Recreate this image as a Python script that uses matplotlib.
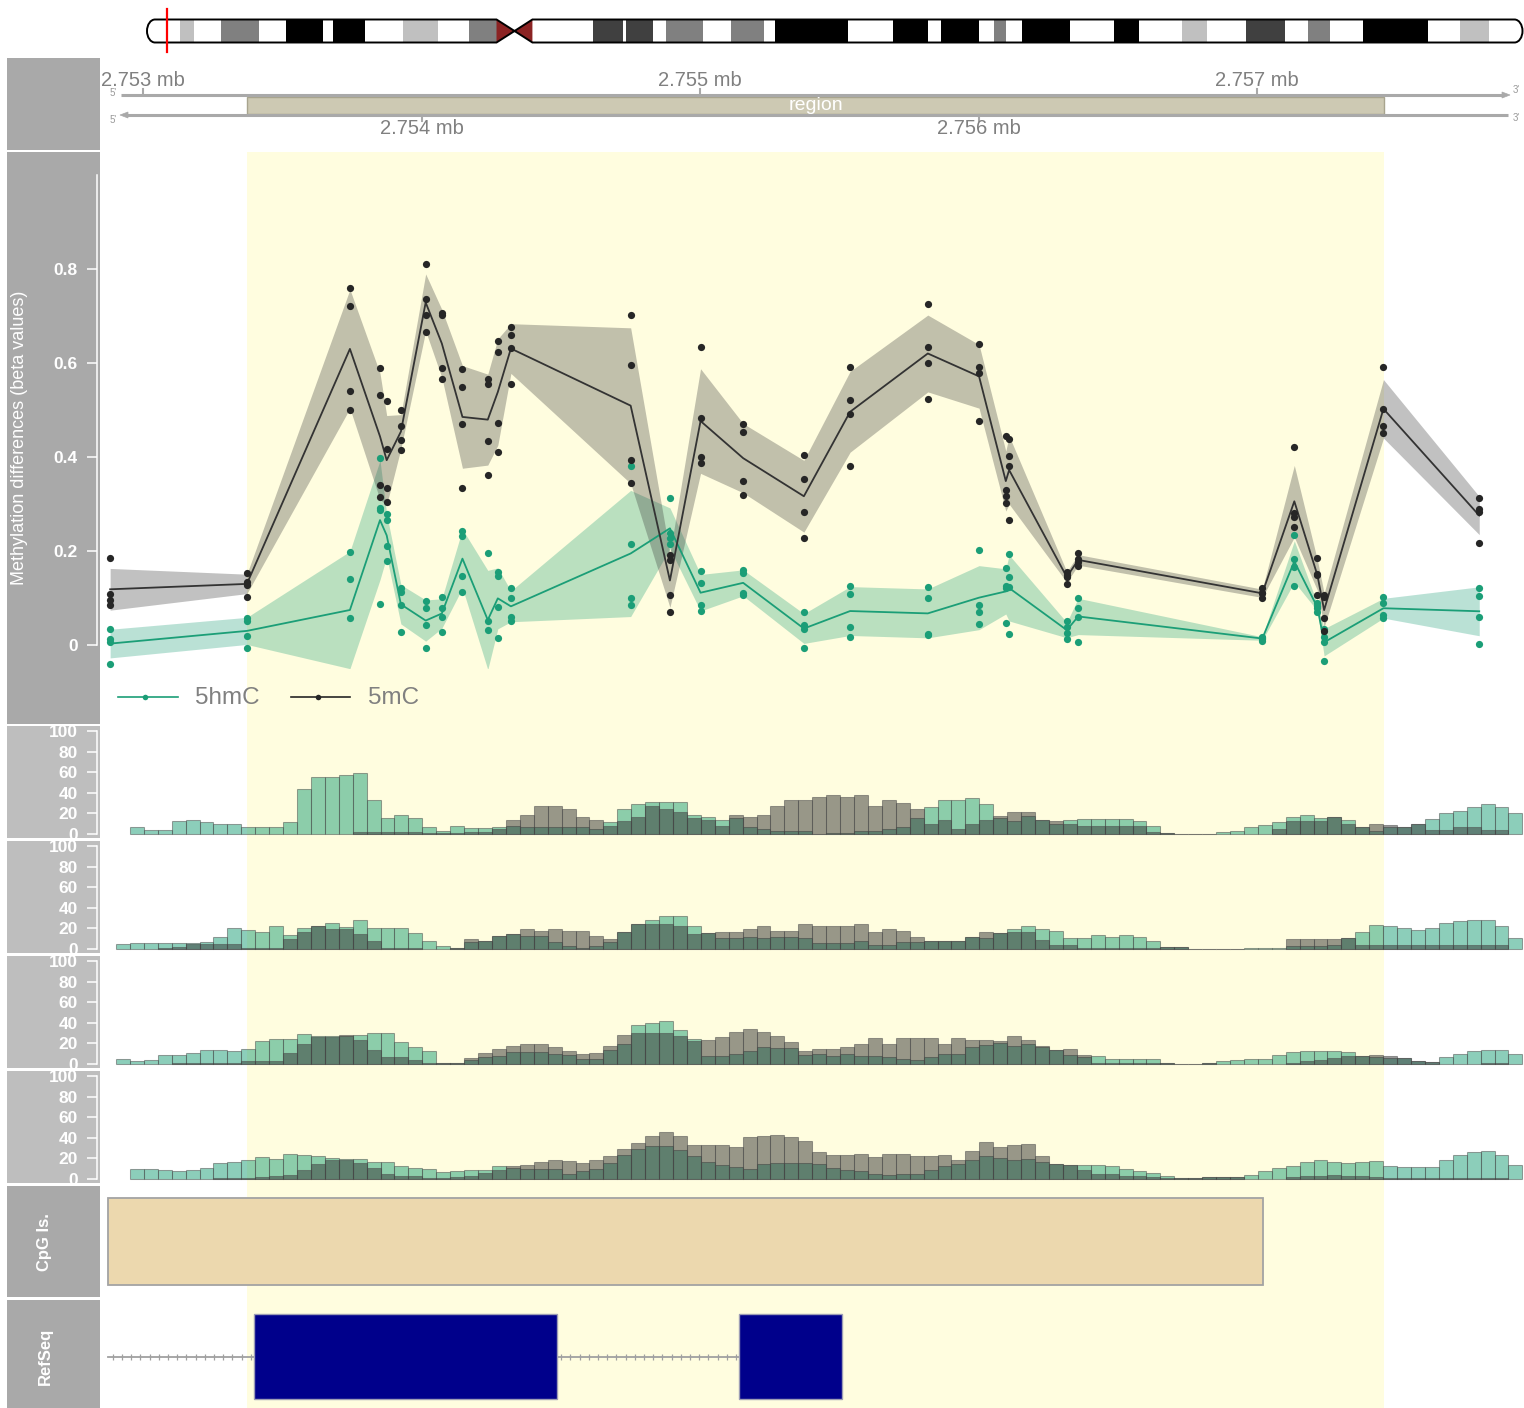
import numpy as np
import matplotlib
matplotlib.use('Agg')
import matplotlib.pyplot as plt
from matplotlib.patches import Rectangle, Polygon, PathPatch
from matplotlib.path import Path

plt.rcParams['font.family'] = ['Liberation Sans', 'DejaVu Sans']

# ---------------- data ----------------
# chromosome ideogram bands (fraction of chromosome length, stain)
band_start = [0.024, 0.0538, 0.1008, 0.135, 0.1861, 0.2341, 0.3246, 0.3486, 0.3773, 0.4246,
              0.4566, 0.542, 0.5772, 0.6158, 0.6359, 0.703, 0.7521, 0.799, 0.8441, 0.8841, 0.9546]
band_end = [0.0339, 0.0814, 0.128, 0.1585, 0.2116, 0.2541, 0.3464, 0.3676, 0.4039, 0.4486,
            0.5096, 0.5678, 0.6049, 0.6245, 0.6707, 0.7212, 0.7706, 0.8273, 0.8601, 0.931, 0.976]
band_stain = ['gpos25', 'gpos50', 'gpos100', 'gpos100', 'gpos25', 'gpos50', 'gpos75', 'gpos75', 'gpos50', 'gpos50',
              'gpos100', 'gpos100', 'gpos100', 'gpos50', 'gpos100', 'gpos100', 'gpos25', 'gpos75', 'gpos50', 'gpos100', 'gpos25']
centromere = [0.2541, 0.2672, 0.2802]
marker_frac = 0.0145

axis_ticks = [2753000, 2754000, 2755000, 2756000, 2757000]
region = [2753373, 2757456]
region_label = 'region'

site_pos = [2752882, 2753373, 2753743, 2753851, 2753875, 2753926, 2754015, 2754073, 2754147, 2754238,
            2754274, 2754321, 2754751, 2754892, 2755002, 2755155, 2755373, 2755539, 2755818, 2756002,
            2756098, 2756110, 2756317, 2756358, 2757019, 2757134, 2757217, 2757241, 2757454, 2757798]

mC_sites = [[0.185, 0.108, 0.096, 0.085], [0.154, 0.135, 0.128, 0.103], [0.759, 0.721, 0.541, 0.499],
            [0.589, 0.532, 0.340, 0.314], [0.520, 0.416, 0.333, 0.304], [0.500, 0.465, 0.436, 0.415],
            [0.811, 0.736, 0.703, 0.665], [0.707, 0.703, 0.589, 0.567], [0.587, 0.549, 0.470, 0.335],
            [0.567, 0.555, 0.434, 0.362], [0.647, 0.624, 0.472, 0.410], [0.677, 0.660, 0.631, 0.555],
            [0.703, 0.596, 0.394, 0.344], [0.191, 0.181, 0.106, 0.071], [0.635, 0.482, 0.401, 0.388],
            [0.470, 0.453, 0.348, 0.319], [0.404, 0.353, 0.282, 0.227], [0.592, 0.521, 0.491, 0.381],
            [0.725, 0.633, 0.599, 0.524], [0.640, 0.592, 0.578, 0.476], [0.445, 0.330, 0.317, 0.303],
            [0.438, 0.403, 0.381, 0.267], [0.156, 0.149, 0.145, 0.129], [0.195, 0.184, 0.177, 0.168],
            [0.121, 0.110, 0.110, 0.099], [0.421, 0.280, 0.272, 0.250], [0.186, 0.152, 0.149, 0.106],
            [0.106, 0.103, 0.058, 0.030], [0.592, 0.502, 0.466, 0.450], [0.312, 0.290, 0.284, 0.216]]

hmC_sites = [[0.034, 0.012, 0.006, -0.040], [0.057, 0.050, 0.020, -0.007], [0.197, 0.140, 0.057, -0.096],
             [0.397, 0.292, 0.287, 0.087], [0.278, 0.265, 0.211, 0.179], [0.121, 0.113, 0.085, 0.027],
             [0.094, 0.078, 0.043, -0.007], [0.103, 0.078, 0.060, 0.027], [0.243, 0.232, 0.147, 0.113],
             [0.195, 0.052, 0.032, -0.066], [0.156, 0.147, 0.080, 0.014], [0.121, 0.099, 0.059, 0.050],
             [0.381, 0.214, 0.099, 0.085], [0.313, 0.238, 0.228, 0.214], [0.157, 0.131, 0.085, 0.072],
             [0.160, 0.153, 0.110, 0.106], [0.071, 0.043, 0.033, -0.007], [0.126, 0.108, 0.039, 0.016],
             [0.124, 0.101, 0.023, 0.021], [0.202, 0.085, 0.071, 0.045], [0.163, 0.126, 0.121, 0.046],
             [0.193, 0.145, 0.124, 0.023], [0.051, 0.038, 0.026, 0.012], [0.099, 0.078, 0.059, 0.007],
             [0.018, 0.015, 0.013, 0.009], [0.234, 0.184, 0.167, 0.126], [0.089, 0.082, 0.078, 0.071],
             [0.035, 0.016, 0.007, -0.035], [0.103, 0.089, 0.064, 0.057], [0.121, 0.104, 0.060, 0.002]]

series_names = ['5hmC', '5mC']
y_ticks = [0, 0.2, 0.4, 0.6, 0.8]
y_ticklabels = ['0', '0.2', '0.4', '0.6', '0.8']

hist_start = 2752903
hist_bin = 50
hist_ticks = [0, 20, 40, 60, 80, 100]

T1G = [0, 6.5, 4.2, 4.2, 12.3, 13.9, 12, 9.7, 9.7, 6.5,
       6.5, 6.5, 12, 43.7, 55.3, 55.3, 57.6, 59.5, 33, 15.2,
       18.8, 15.2, 6.5, 3.2, 8, 5.8, 5.8, 7, 8, 6.8,
       6.8, 6.8, 6.8, 6.8, 5.2, 11.7, 24.3, 29.4, 31.4, 31.4,
       31.4, 18.1, 16.5, 13.9, 15.2, 6.5, 4.9, 3.2, 2.6, 2.6,
       0.3, 1, 1, 2.6, 3.2, 4.9, 6.5, 15.2, 25.9, 32.7,
       32.7, 34.6, 29.1, 16, 12.3, 17.2, 14, 10, 13.9, 14.9,
       14.9, 14.9, 14.9, 12.3, 8.1, 1, 0.3, 0.3, 0.3, 1.6,
       3.2, 6.8, 8.4, 11.7, 16.8, 18.8, 15.5, 16.2, 13.9, 6.8,
       3.2, 6.8, 6.8, 10, 14.9, 20.4, 22.7, 25.9, 29.1, 25.9,
       20.4]
T1K = [0, 0, 0, 0, 0, 0, 0, 0, 0, 0,
       0, 0, 0, 0, 0, 0, 0, 2, 2, 2,
       2, 2, 1, 1, 1, 2, 2, 5, 13.3, 18.8,
       26.9, 26.9, 24.3, 16.2, 13.3, 7.4, 12.9, 16.2, 26.9, 24.3,
       21, 15.9, 13.3, 7.4, 18.8, 16.2, 18.8, 26.9, 32.7, 32.7,
       35.6, 37.9, 35.6, 37.9, 26.9, 32.7, 30.1, 24.3, 10, 13.3,
       4.9, 10, 13.3, 17, 21.7, 21.7, 14, 12.9, 10, 7.4,
       7.4, 7.4, 7.4, 7.4, 1.9, 1, 0.3, 0.3, 0.3, 0,
       0, 0, 0, 5.2, 12.9, 12.9, 12.9, 16.2, 10, 6.8,
       10, 9, 6.8, 10, 4.2, 4.2, 6.8, 6.8, 4.2, 4.2,
       0]
T2G = [4.9, 6, 6, 6, 6, 6, 6.5, 11.7, 20.4, 18.8,
       16.8, 22, 13.9, 20.4, 22, 25.2, 21.4, 28.5, 20.4, 20.4,
       20.4, 15.5, 7.4, 2.6, 1, 7, 7.4, 12.3, 14.6, 12.3,
       12.3, 6.5, 2.6, 1, 2.6, 6.5, 16.5, 24.3, 28.5, 31.7,
       31.7, 22, 15.5, 10.7, 10.7, 11.7, 10.7, 11.7, 11.7, 10.7,
       5.8, 5.8, 5.8, 8.1, 4.2, 4.2, 6.5, 6.5, 8.1, 8.1,
       8.1, 11.7, 10.7, 15.5, 19.7, 22, 19.7, 17.2, 10.7, 10.7,
       13.9, 11.7, 13.9, 11.7, 7.4, 1.6, 1.6, 0.3, 0.3, 0.3,
       0.3, 1.3, 1.3, 1.3, 2.6, 2.6, 2.6, 4.2, 10.7, 16.2,
       23.6, 22, 20.4, 18.8, 20.4, 25.2, 26.9, 27.8, 27.8, 22,
       10.7]
T2K = [0, 0, 0, 1, 1.6, 4.9, 4.9, 4.9, 4.9, 1,
       1, 1, 9.7, 16.5, 22, 19.7, 19.4, 14.6, 7.4, 1,
       1, 1, 0, 0, 1, 10, 7.4, 12.3, 14.6, 19.7,
       17.2, 19.7, 17.2, 17.2, 12.3, 10, 16.5, 24.3, 24.6, 24.6,
       22, 14.6, 15.5, 16.5, 16.5, 19.4, 22, 17.2, 17.2, 24.6,
       22, 22, 22, 24.6, 16.8, 19.4, 17.2, 11.7, 8.1, 8.1,
       8.1, 11.7, 16.8, 15.5, 16.5, 16.5, 9, 4.2, 4.2, 1,
       1, 1, 1, 1, 0.5, 1.6, 1.6, 0.3, 0.3, 0.3,
       0.3, 0, 0, 0, 9.7, 9.7, 9.7, 9.7, 10.7, 4.2,
       4.2, 4.2, 4.2, 4.2, 4.2, 4.2, 4.2, 4.2, 4.2, 4.2,
       0]
T3G = [5.2, 3.2, 4.2, 8.7, 8.7, 10.7, 13.6, 13.6, 12.3, 14.6,
       22, 24.3, 24.3, 29.4, 27.5, 26.9, 27, 28.5, 30.1, 30.1,
       21, 16.5, 12.3, 1, 1, 4.2, 6.8, 8.1, 11.3, 11.3,
       11.3, 10, 9, 5.2, 5.2, 13.9, 19.4, 37.5, 39.8, 41.4,
       32.7, 24, 8.1, 8.1, 10, 12.3, 16.5, 15.5, 15.5, 8.7,
       10, 8.1, 10, 8.1, 8.1, 6.8, 4.9, 3.6, 6.8, 10,
       10, 16.2, 18.8, 20.4, 17.2, 19.7, 16.5, 13.9, 9, 6.8,
       8.1, 5.2, 5.2, 5.2, 5.2, 1, 0.3, 0.3, 1, 3.2,
       3.6, 4.9, 4.9, 8.4, 11.3, 12.3, 12.3, 12.3, 11.3, 7.4,
       6.8, 5.8, 5.8, 3.2, 2.3, 6.8, 10, 12.3, 13.9, 13.9,
       10]
T3K = [0, 0, 0, 0, 1, 1, 1, 1, 1, 3.2,
       3.2, 3.2, 10.7, 19.4, 26.2, 26, 28.5, 23, 13.9, 6.8,
       6.8, 3.6, 1, 1, 1, 5.8, 10.7, 14.6, 17.8, 19.4,
       19.4, 16.2, 12.9, 9.7, 10.7, 17.8, 28.5, 30.1, 30.1, 30.1,
       26.9, 22, 23.6, 26.2, 30.7, 34, 30.7, 26.9, 21.4, 12.9,
       14.9, 14.9, 16.5, 19.4, 25.2, 19.4, 25.2, 25.2, 25.2, 19.4,
       25.2, 23.6, 23, 22, 26.9, 23.6, 17.2, 13.9, 14.6, 9,
       1, 1, 1, 0.5, 0.5, 1, 0.3, 0.3, 1, 0,
       0, 0, 0, 0, 1, 2.6, 4.2, 5.8, 7.4, 8.1,
       9, 7.4, 5.8, 3.2, 2.3, 0, 0, 0, 1, 1,
       0]
T4G = [0, 9.7, 9.7, 8.4, 7.4, 8.4, 10.7, 15.5, 16.5, 18.1,
       21.4, 19.4, 24.6, 23.6, 22, 20.4, 19.4, 19.7, 16.2, 16.2,
       12.9, 10.7, 9.7, 6.8, 8.1, 9, 9, 12.9, 10.7, 10,
       10, 9.7, 5.2, 7.4, 10, 15.5, 23.6, 29.1, 31.7, 32.4,
       28.5, 22, 16.5, 13.9, 11.7, 10, 14.6, 15.5, 15.5, 15.5,
       14.6, 10.7, 8.4, 8.1, 5.2, 4.2, 5.2, 5.2, 9, 12.9,
       14.9, 18.8, 22.7, 20.4, 18.8, 19.7, 16.5, 14.9, 13.6, 13.3,
       13.9, 12.3, 10, 7.4, 5.8, 2.6, 1, 1, 1.9, 1.9,
       1.9, 4.2, 7.4, 10.7, 12.9, 16.2, 18.1, 16.2, 15.5, 16.5,
       17.2, 12.9, 11.7, 11.7, 11.7, 18.1, 23.6, 26.2, 26.9, 23.6,
       13.9]
T4K = [0, 0, 0, 0, 0, 0, 0, 1, 1, 1,
       1.6, 3.2, 4.2, 9, 14.9, 18.1, 18.1, 15.5, 10.7, 5.2,
       2.6, 2.6, 1, 1, 1.6, 2.6, 5.8, 9, 12.3, 13.3,
       16.2, 18.1, 17.2, 15.5, 18.1, 22, 29.1, 35, 41.4, 45.3,
       41.4, 33.3, 33.3, 33.3, 30.7, 40.5, 41.4, 43, 40.5, 36.6,
       25.9, 23, 23, 24.6, 21, 24.6, 24.6, 22, 22, 23,
       18.1, 26.9, 35.6, 30.7, 33.3, 34.3, 22.7, 14.9, 13.6, 8.4,
       5.2, 5.2, 2.6, 2.6, 1.6, 1, 1, 1, 1.9, 1.9,
       1.9, 0, 0, 0, 1.6, 2.6, 3.2, 4.2, 3.2, 2.6,
       1.6, 1, 1, 1, 1, 1, 1, 1, 1, 1,
       0]
hist_green = [T1G, T2G, T3G, T4G]
hist_gray = [T1K, T2K, T3K, T4K]

cpg_island = [2752876, 2757021]
gene_start = 2752876
exon_start = [2753400, 2755141]
exon_end = [2754486, 2755510]

title_main = 'Methylation differences (beta values)'
title_cpg = 'CpG Is.'
title_ref = 'RefSeq'

# ---------------- style / layout ----------------
W, H = 1524, 1408
GREEN = '#1b9e77'
DARK = '#333333'
YELLOW = '#fffddf'
PANEL_DARK = '#a9a9a9'
PANEL_LIGHT = '#bebebe'
stain_col = {'gpos25': '#c0c0c0', 'gpos50': '#808080', 'gpos75': '#404040', 'gpos100': '#000000'}

REF_BP, REF_PX, PX_PER_BP = 2753000, 143.0, 0.2785
def px2bp(px):
    return REF_BP + (px - REF_PX) / PX_PER_BP

XL, XR = 100, 1524
GLIM = (px2bp(XL), px2bp(XR))

fig = plt.figure(figsize=(W / 100, H / 100), dpi=100)
fig.patch.set_facecolor('white')

def add_ax(x0, y0, x1, y1, z):
    ax = fig.add_axes([x0 / W, 1 - y1 / H, (x1 - x0) / W, (y1 - y0) / H], zorder=z)
    ax.set_facecolor('none')
    return ax

# background overlay (pixel coordinates)
bg = add_ax(0, 0, W, H, 0)
bg.set_xlim(0, W); bg.set_ylim(H, 0); bg.axis('off')
panels = [(58, 150, PANEL_DARK), (152, 724, PANEL_DARK), (726, 838, PANEL_LIGHT), (841, 953, PANEL_LIGHT),
          (956, 1068, PANEL_LIGHT), (1071, 1183, PANEL_LIGHT), (1186, 1297, PANEL_DARK), (1300, 1408, PANEL_DARK)]
for y0, y1, c in panels:
    bg.add_patch(Rectangle((7, y0), 93, y1 - y0, fc=c, lw=0))

# ideogram
x0, x1, yt, yb = 147.0, 1522.5, 19.5, 42.5
def fx(f):
    return x0 + f * (x1 - x0)
ym = (yt + yb) / 2; rx = 8.0; ry = (yb - yt) / 2; k = 0.5523
cl, cm, cr = [fx(f) for f in centromere]
verts = [(x0 + rx, yt), (cl, yt), (cm, ym), (cr, yt), (x1 - rx, yt),
         (x1 - rx + k * rx, yt), (x1, ym - k * ry), (x1, ym),
         (x1, ym + k * ry), (x1 - rx + k * rx, yb), (x1 - rx, yb),
         (cr, yb), (cm, ym), (cl, yb), (x0 + rx, yb),
         (x0 + rx - k * rx, yb), (x0, ym + k * ry), (x0, ym),
         (x0, ym - k * ry), (x0 + rx - k * rx, yt), (x0 + rx, yt), (x0 + rx, yt)]
codes = [Path.MOVETO] + [Path.LINETO] * 4 + [Path.CURVE4] * 6 + [Path.LINETO] * 4 + [Path.CURVE4] * 6 + [Path.CLOSEPOLY]
chrom_path = Path(verts, codes)
body = PathPatch(chrom_path, fc='white', ec='none')
bg.add_patch(body)
for s, e, st in zip(band_start, band_end, band_stain):
    r = Rectangle((fx(s), yt), fx(e) - fx(s), yb - yt, fc=stain_col[st], lw=0)
    bg.add_patch(r)
    r.set_clip_path(body)
bg.add_patch(Polygon([(cl, yt), (cl, yb), (cm, ym)], closed=True, fc='#8b2323', lw=0))
bg.add_patch(Polygon([(cr, yt), (cr, yb), (cm, ym)], closed=True, fc='#8b2323', lw=0))
bg.add_patch(PathPatch(chrom_path, fc='none', ec='black', lw=1.4))
bg.plot([fx(marker_frac)] * 2, [9, 52], color='red', lw=1.6)

# highlight
hl = add_ax(XL, 152, XR, H, 1)
hl.set_xlim(*GLIM); hl.set_ylim(0, 1); hl.axis('off')
hl.axvspan(region[0], region[1], color=YELLOW, lw=0)

# genome axis track
axa = add_ax(XL, 58, XR, 150, 2)
axa.set_xlim(*GLIM); axa.set_ylim(150, 58); axa.axis('off')
lc = '#a9a9a9'
axa.plot([px2bp(121), px2bp(1504)], [95, 95], color=lc, lw=2.2, solid_capstyle='butt')
axa.add_patch(Polygon([(px2bp(1502), 92), (px2bp(1510), 95), (px2bp(1502), 98)], closed=True, fc=lc, ec=lc, lw=0.5))
axa.plot([px2bp(126), px2bp(1508)], [115, 115], color=lc, lw=2.2, solid_capstyle='butt')
axa.add_patch(Polygon([(px2bp(128), 112), (px2bp(120), 115), (px2bp(128), 118)], closed=True, fc=lc, ec=lc, lw=0.5))
for xp, yy, t in [(113, 93, "5'"), (113, 120, "5'"), (1516, 90, "3'"), (1516, 118, "3'")]:
    axa.text(px2bp(xp), yy, t, fontsize=7, color='#999999', ha='center', va='center')
axa.add_patch(Rectangle((region[0], 96.6), region[1] - region[0], 17, fc='#cdc9b3', ec='#a8a48e', lw=1))
axa.text((region[0] + region[1]) / 2, 105.5, region_label, color='white', fontsize=14, ha='center', va='center')
for i, t in enumerate(axis_ticks):
    lab = f'{t / 1e6:.3f} mb'
    if i % 2 == 0:
        axa.plot([t, t], [89, 95], color=lc, lw=1.5)
        axa.text(t, 81, lab, color='#808080', fontsize=14.5, ha='center', va='center')
    else:
        axa.plot([t, t], [115, 121], color=lc, lw=1.5)
        axa.text(t, 128.5, lab, color='#808080', fontsize=14.5, ha='center', va='center')

def style_yaxis(ax, ticks, labels, top):
    for s in ['top', 'right', 'bottom']:
        ax.spines[s].set_visible(False)
    ax.spines['left'].set_position(('outward', 2.5))
    ax.spines['left'].set_bounds(0, top)
    ax.spines['left'].set_color('white')
    ax.spines['left'].set_linewidth(1.1)
    ax.set_yticks(ticks)
    ax.set_yticklabels(labels)
    ax.tick_params(axis='y', colors='white', length=7.5, width=1.1, pad=6, labelsize=12.5)
    ax.tick_params(axis='x', bottom=False, labelbottom=False)
    for tl in ax.get_yticklabels():
        tl.set_fontweight('bold')

# methylation data track
axd = add_ax(XL, 152, XR, 668, 3)
axd.set_xlim(*GLIM)
axd.set_ylim((645 - 668) / 470, (645 - 152) / 470)
style_yaxis(axd, y_ticks, y_ticklabels, 1.0)
pos = np.array(site_pos, dtype=float)
series = [(np.array(hmC_sites), GREEN, GREEN), (np.array(mC_sites), DARK, '#262626')]
stats = []
for vals, col, dcol in series:
    m = vals.mean(axis=1)
    ci = 1.96 * vals.std(axis=1, ddof=1) / np.sqrt(vals.shape[1])
    stats.append((m, ci))
    axd.fill_between(pos, m - ci, m + ci, color=col, alpha=0.3, lw=0, zorder=1)
for (vals, col, dcol), (m, ci) in zip(series, stats):
    axd.plot(pos, m, color=col, lw=1.3, zorder=2)
for vals, col, dcol in series:
    axd.scatter(np.repeat(pos, vals.shape[1]), vals.ravel(), s=27, color=dcol, lw=0, zorder=3)

# histogram tracks
edges = hist_start + hist_bin * np.arange(len(T1G))
for i in range(4):
    top = 726 + 115 * i
    base = 834 + 115 * i
    axh = add_ax(XL, top, XR, base + 4, 3)
    axh.set_xlim(*GLIM)
    axh.set_ylim(-4 / 1.03, (base - top) / 1.03)
    style_yaxis(axh, hist_ticks, [str(v) for v in hist_ticks], 100)
    g = np.array(hist_green[i]); kk = np.array(hist_gray[i])
    mg = g > 0; mk = kk > 0
    axh.bar(edges[mg], g[mg], width=hist_bin, align='edge', color=GREEN, alpha=0.5,
            edgecolor='#4a4a4a', linewidth=0.75, zorder=1)
    axh.bar(edges[mk], kk[mk], width=hist_bin, align='edge', color=DARK, alpha=0.5,
            edgecolor='#4a4a4a', linewidth=0.75, zorder=2)

# CpG island track
axc = add_ax(XL, 1186, XR, 1297, 3)
axc.set_xlim(*GLIM); axc.set_ylim(0, 1); axc.axis('off')
axc.add_patch(Rectangle((cpg_island[0], 0.108), cpg_island[1] - cpg_island[0], 0.784,
                        fc='#ecd8ae', ec='#a3a3a3', lw=1.3))

# RefSeq track
axr = add_ax(XL, 1300, XR, H, 3)
axr.set_xlim(*GLIM); axr.set_ylim(0, 1); axr.axis('off')
intron_pieces = [(gene_start, exon_start[0])] + [(exon_end[j], exon_start[j + 1]) for j in range(len(exon_start) - 1)]
for a, b in intron_pieces:
    axr.plot([a, b], [0.472, 0.472], color='#a0a0a0', lw=1.3, zorder=1)
    xs = np.arange(a + 16, b - 8, 33)
    axr.plot(xs, np.full(len(xs), 0.472), ls='none', marker='|', ms=4, mew=0.9, color='#a0a0a0', zorder=1)
for a, b in zip(exon_start, exon_end):
    axr.add_patch(Rectangle((a, 0.083), b - a, 0.787, fc='#00008b', ec='#9d9db5', lw=1, zorder=2))

# front overlay: titles and legend
fr = add_ax(0, 0, W, H, 10)
fr.set_xlim(0, W); fr.set_ylim(H, 0); fr.axis('off')
fr.text(20, 438, title_main, rotation=90, color='white', fontsize=13, ha='center', va='center')
fr.text(44, 1242, title_cpg, rotation=90, color='white', fontsize=12, fontweight='bold', ha='center', va='center')
fr.text(45, 1356, title_ref, rotation=90, color='white', fontsize=12, fontweight='bold', ha='center', va='center')
leg_geom = [(118, 178, 145, 195), (291, 350, 318, 368)]
for (lx0, lx1, ld, lt), name, col in zip(leg_geom, series_names, [GREEN, '#262626']):
    fr.plot([lx0, lx1], [697, 697], color=col, lw=1.2)
    fr.plot([ld], [697], 'o', ms=4, color=col, mew=0)
    fr.text(lt, 698, name, color='#808080', fontsize=17.5, ha='left', va='center')

fig.savefig('out.png', dpi=100, facecolor='white')
